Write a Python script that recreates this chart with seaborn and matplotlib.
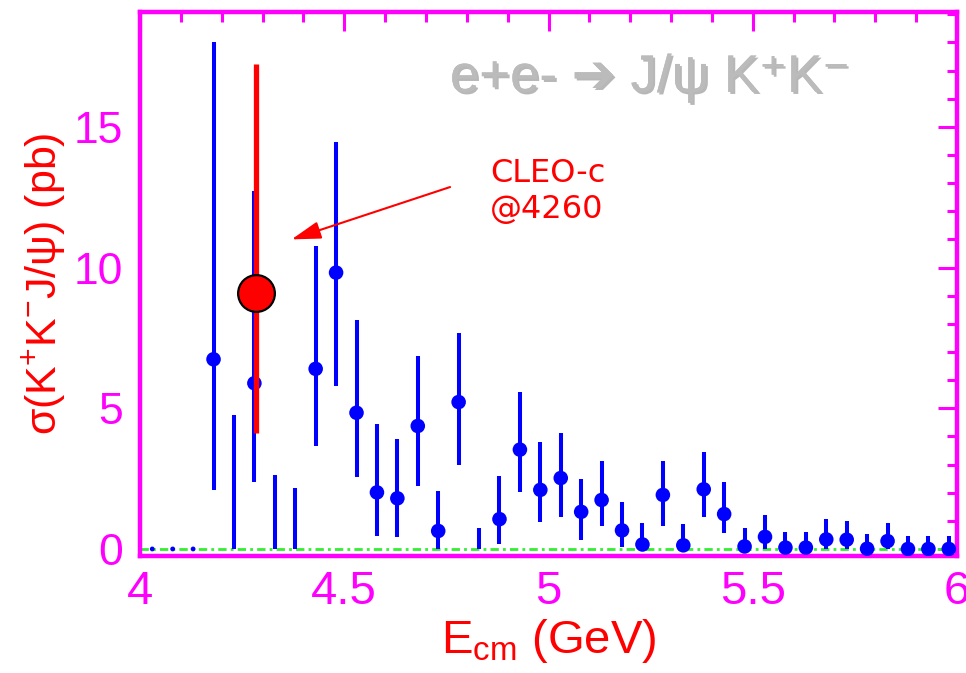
import matplotlib
matplotlib.use("Agg")
import matplotlib.pyplot as plt
import matplotlib.patheffects as pe
from matplotlib.ticker import MultipleLocator, FixedLocator
import seaborn as sns
import pandas as pd

# ---- data ----
energy = [4.18, 4.28, 4.43, 4.48, 4.53, 4.58, 4.63, 4.68, 4.73, 4.78,
          4.88, 4.93, 4.98, 5.03, 5.08, 5.13, 5.18, 5.23, 5.28, 5.33,
          5.38, 5.43, 5.48, 5.53, 5.58, 5.63, 5.68, 5.73, 5.78, 5.83,
          5.88, 5.93, 5.98]
sigma = [6.74, 5.89, 6.40, 9.82, 4.84, 2.01, 1.80, 4.37, 0.64, 5.22,
         1.06, 3.53, 2.10, 2.52, 1.32, 1.74, 0.66, 0.16, 1.92, 0.13,
         2.12, 1.24, 0.09, 0.43, 0.05, 0.05, 0.34, 0.33, 0.01, 0.28,
         0.00, 0.00, 0.00]
err_top = [18.0, 12.73, 10.78, 14.47, 8.14, 4.44, 3.90, 6.86, 2.07, 7.69,
           2.58, 5.56, 3.80, 4.13, 2.49, 3.11, 1.68, 0.94, 3.11, 0.87,
           3.45, 2.37, 0.73, 1.20, 0.61, 0.61, 1.08, 1.00, 0.52, 0.94,
           0.45, 0.45, 0.45]
err_bot = [2.10, 2.39, 3.67, 5.80, 2.57, 0.47, 0.41, 2.24, 0.00, 2.99,
           0.19, 2.04, 0.96, 1.14, 0.33, 0.81, 0.07, 0.00, 0.81, 0.00,
           1.14, 0.55, 0.00, 0.00, 0.00, 0.00, 0.00, 0.00, 0.00, 0.00,
           0.00, 0.00, 0.00]

# bars whose central marker is not visible
bar_only_energy = [4.23, 4.33, 4.38, 4.83]
bar_only_top = [4.76, 2.63, 2.17, 0.73]
bar_only_bot = [0.0, 0.0, 0.0, 0.0]

# tiny points near threshold
low_energy = [4.03, 4.08, 4.13]
low_sigma = [0.0, 0.0, 0.0]

# CLEO-c measurement
cleo_energy = [4.283]
cleo_sigma = [9.11]
cleo_top = [17.24]
cleo_bot = [4.11]

x_ticks = [4.0, 4.5, 5.0, 5.5, 6.0]
x_tick_labels = ["4", "4.5", "5", "5.5", "6"]
y_ticks = [0, 5, 10, 15]
y_tick_labels = ["0", "5", "10", "15"]

MAG = "#FF00FF"
BLUE = "#0000FF"
RED = "#FF0000"

sns.set_style("white")
plt.rcParams["font.family"] = ["Liberation Sans", "DejaVu Sans"]
plt.rcParams["mathtext.fontset"] = "custom"
plt.rcParams["mathtext.rm"] = "Liberation Sans"

fig = plt.figure(figsize=(9.66, 6.73), dpi=100)
ax = fig.add_axes([140 / 966, 1 - 556 / 673, (957 - 140) / 966, (556 - 12) / 673])

df = pd.DataFrame({"E": energy, "sigma": sigma, "top": err_top, "bot": err_bot})

# zero line
ax.axhline(0, color="#33EE33", lw=2.0, ls=(0, (3, 1.5, 1, 1.5)), zorder=1)

# blue error bars
ax.vlines(df["E"], df["bot"], df["top"], color=BLUE, lw=2.9, zorder=2)
ax.vlines(bar_only_energy, bar_only_bot, bar_only_top, color=BLUE, lw=2.9, zorder=2)
sns.scatterplot(data=df, x="E", y="sigma", ax=ax, color=BLUE, s=110,
                edgecolor="none", zorder=3, legend=False)
sns.scatterplot(x=low_energy, y=low_sigma, ax=ax, color=BLUE, s=12,
                edgecolor="none", zorder=3, legend=False)

# CLEO-c point
ax.vlines(cleo_energy, cleo_bot, cleo_top, color=RED, lw=3.8, zorder=4)
sns.scatterplot(x=cleo_energy, y=cleo_sigma, ax=ax, color=RED, s=700,
                edgecolor="black", linewidth=1.6, zorder=5, legend=False)

ax.set_xlim(4.0, 6.0)
ax.set_ylim(-0.25, 19.08)

ax.xaxis.set_major_locator(FixedLocator(x_ticks))
ax.set_xticklabels(x_tick_labels)
ax.xaxis.set_minor_locator(MultipleLocator(0.1))
ax.yaxis.set_major_locator(FixedLocator(y_ticks))
ax.set_yticklabels(y_tick_labels)
ax.yaxis.set_minor_locator(MultipleLocator(1))

ax.tick_params(which="both", direction="in", top=True, right=True,
               color=MAG, width=2.2, labelcolor=MAG)
ax.tick_params(which="major", length=14)
ax.tick_params(which="minor", length=7)
ax.tick_params(axis="x", labelsize=34, pad=10)
ax.tick_params(axis="y", labelsize=32, pad=12)

for s in ax.spines.values():
    s.set_color(MAG)
    s.set_linewidth(3.2)

ax.set_xlabel(r"E$_{\rm cm}$ (GeV)", color=RED, fontsize=34, labelpad=2)
ax.set_ylabel(r"σ(K$^{+}$K$^{-}$J/ψ) (pb)", color=RED, fontsize=31, labelpad=4)

# title inside the plot (plain text so that font fallback works)
ax.text(5.248, 16.74, "e+e- ➔ J/ψ K⁺K⁻", color="#BBBBBB",
        fontsize=38, ha="center", va="center",
        family=["Liberation Sans", "DejaVu Sans"],
        path_effects=[pe.withSimplePatchShadow(offset=(1.5, -1.5),
                                               shadow_rgbFace="#888888", alpha=0.6),
                      pe.Normal()], zorder=6)

# annotation
ax.annotate("", xy=(4.371, 11.0), xytext=(4.759, 12.86),
            arrowprops=dict(arrowstyle="-|>,head_length=0.6,head_width=0.18",
                            color=RED, lw=1.5, mutation_scale=30,
                            shrinkA=0, shrinkB=0), zorder=6)
ax.text(4.857, 12.69, "CLEO-c\n@4260", color=RED, fontsize=23,
        family=["DejaVu Sans"], ha="left", va="center", linespacing=1.2, zorder=6)

fig.savefig("out.png", dpi=100)
